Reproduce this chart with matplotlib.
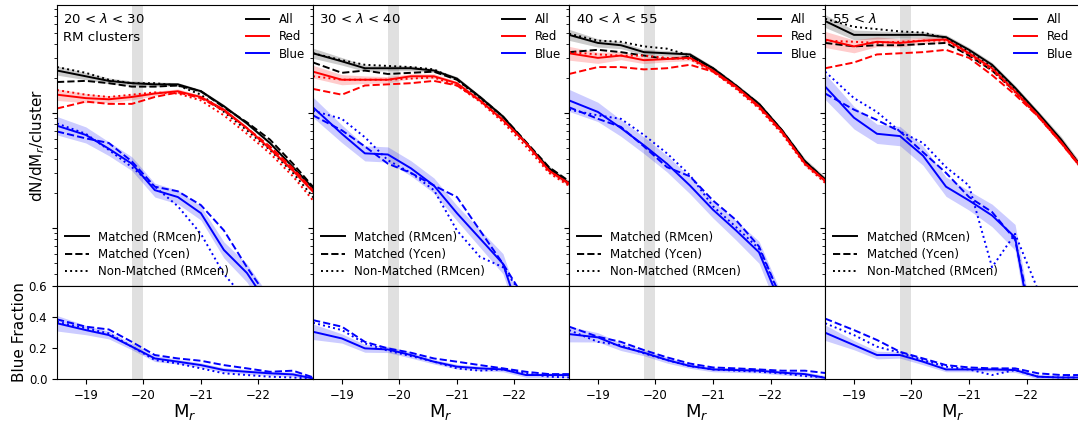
import numpy as np
import matplotlib
matplotlib.use("Agg")
import matplotlib.pyplot as plt

# Absolute magnitude bin centres (first point sits on the left edge)
MR = [-18.5, -19.0, -19.4, -19.8, -20.2, -20.6, -21.0, -21.4, -21.8, -22.2, -22.6, -23.0]

TITLES = ["20 < $\\lambda$ < 30", "30 < $\\lambda$ < 40", "40 < $\\lambda$ < 55", "55 < $\\lambda$"]

# log10(dN/dMr/cluster), one row per richness bin
ALL_RM = [
    [0.37, 0.32, 0.28, 0.26, 0.25, 0.25, 0.19, 0.06, -0.09, -0.26, -0.47, -0.68],
    [0.52, 0.45, 0.39, 0.39, 0.39, 0.37, 0.30, 0.14, -0.03, -0.26, -0.48, -0.63],
    [0.68, 0.61, 0.59, 0.53, 0.52, 0.51, 0.39, 0.24, 0.08, -0.15, -0.42, -0.60],
    [0.80, 0.68, 0.68, 0.68, 0.68, 0.66, 0.55, 0.42, 0.22, 0.00, -0.23, -0.50],
]
ALL_Y = [
    [0.27, 0.28, 0.26, 0.23, 0.23, 0.24, 0.19, 0.05, -0.08, -0.23, -0.44, -0.67],
    [0.44, 0.35, 0.37, 0.34, 0.35, 0.36, 0.29, 0.14, -0.03, -0.25, -0.47, -0.61],
    [0.53, 0.55, 0.53, 0.50, 0.47, 0.49, 0.39, 0.24, 0.08, -0.15, -0.42, -0.60],
    [0.61, 0.58, 0.59, 0.59, 0.60, 0.61, 0.50, 0.37, 0.19, -0.02, -0.25, -0.50],
]
ALL_NM = [
    [0.40, 0.35, 0.29, 0.26, 0.26, 0.24, 0.16, 0.01, -0.15, -0.32, -0.52, -0.76],
    [0.52, 0.46, 0.42, 0.41, 0.40, 0.38, 0.29, 0.13, -0.06, -0.26, -0.50, -0.64],
    [0.69, 0.63, 0.62, 0.58, 0.56, 0.50, 0.37, 0.23, 0.07, -0.16, -0.44, -0.61],
    [0.82, 0.75, 0.73, 0.71, 0.70, 0.65, 0.53, 0.40, 0.21, -0.01, -0.24, -0.50],
]
RED_RM = [
    [0.16, 0.13, 0.12, 0.14, 0.17, 0.19, 0.14, 0.03, -0.13, -0.31, -0.50, -0.71],
    [0.36, 0.29, 0.29, 0.29, 0.32, 0.32, 0.26, 0.11, -0.06, -0.26, -0.50, -0.63],
    [0.52, 0.48, 0.50, 0.46, 0.47, 0.48, 0.37, 0.23, 0.06, -0.16, -0.44, -0.61],
    [0.64, 0.58, 0.62, 0.61, 0.63, 0.64, 0.52, 0.39, 0.19, -0.02, -0.25, -0.50],
]
RED_Y = [
    [0.04, 0.10, 0.08, 0.08, 0.14, 0.18, 0.13, 0.02, -0.13, -0.29, -0.48, -0.70],
    [0.21, 0.16, 0.24, 0.25, 0.26, 0.28, 0.24, 0.11, -0.06, -0.26, -0.50, -0.63],
    [0.34, 0.40, 0.40, 0.38, 0.39, 0.42, 0.36, 0.22, 0.05, -0.17, -0.44, -0.61],
    [0.39, 0.44, 0.51, 0.52, 0.53, 0.55, 0.48, 0.33, 0.16, -0.03, -0.26, -0.51],
]
RED_NM = [
    [0.20, 0.16, 0.14, 0.16, 0.18, 0.17, 0.11, -0.02, -0.18, -0.35, -0.55, -0.79],
    [0.32, 0.29, 0.29, 0.29, 0.30, 0.31, 0.24, 0.10, -0.08, -0.29, -0.52, -0.65],
    [0.53, 0.51, 0.50, 0.50, 0.48, 0.47, 0.36, 0.21, 0.04, -0.18, -0.45, -0.63],
    [0.63, 0.62, 0.61, 0.62, 0.63, 0.63, 0.51, 0.37, 0.18, -0.03, -0.26, -0.51],
]
BLUE_RM = [
    [-0.11, -0.19, -0.31, -0.44, -0.67, -0.73, -0.87, -1.19, -1.39, -1.69, -1.97, -2.32],
    [0.05, -0.18, -0.35, -0.36, -0.48, -0.63, -0.87, -1.09, -1.31, -1.91, -2.23, -2.58],
    [0.11, 0.01, -0.13, -0.28, -0.44, -0.63, -0.84, -1.02, -1.21, -1.69, -2.06, -2.41],
    [0.23, -0.04, -0.18, -0.20, -0.37, -0.64, -0.76, -0.89, -1.08, -2.20, -2.50, -2.84],
]
BLUE_Y = [
    [-0.16, -0.22, -0.26, -0.42, -0.64, -0.68, -0.80, -1.02, -1.34, -1.63, -1.93, -2.28],
    [-0.02, -0.15, -0.29, -0.44, -0.52, -0.63, -0.73, -1.02, -1.31, -1.63, -1.93, -2.28],
    [0.05, -0.05, -0.12, -0.29, -0.47, -0.55, -0.76, -0.93, -1.16, -1.63, -2.02, -2.37],
    [0.17, 0.03, -0.06, -0.16, -0.34, -0.52, -0.73, -0.86, -1.10, -2.06, -2.41, -2.76],
]
BLUE_NM = [
    [-0.09, -0.18, -0.32, -0.47, -0.64, -0.81, -1.05, -1.40, -1.63, -1.97, -2.32, -2.67],
    [0.02, -0.05, -0.21, -0.41, -0.52, -0.67, -1.02, -1.25, -1.34, -1.63, -1.97, -2.32],
    [0.03, -0.02, -0.05, -0.19, -0.35, -0.54, -0.81, -0.99, -1.18, -1.63, -2.02, -2.37],
    [0.36, 0.13, 0.01, -0.16, -0.26, -0.47, -0.63, -1.34, -1.05, -1.54, -1.89, -2.23],
]
# error half-widths in dex for the matched (RMcen) curves
ERR_ALL = [0.04, 0.03, 0.025, 0.02, 0.02, 0.015, 0.015, 0.015, 0.015, 0.015, 0.02, 0.02]
ERR_RED = [0.05, 0.04, 0.03, 0.025, 0.02, 0.02, 0.015, 0.015, 0.015, 0.015, 0.02, 0.02]
ERR_BLUE = [0.08, 0.07, 0.06, 0.06, 0.06, 0.06, 0.06, 0.07, 0.08, 0.09, 0.10, 0.12]
ERR_SCALE = [1.0, 1.1, 1.2, 1.4]

# blue fraction
FRAC_RM = [
    [0.36, 0.316, 0.284, 0.209, 0.133, 0.112, 0.09, 0.058, 0.047, 0.037, 0.030, 0.0],
    [0.305, 0.262, 0.198, 0.191, 0.155, 0.112, 0.08, 0.069, 0.062, 0.026, 0.026, 0.026],
    [0.29, 0.269, 0.209, 0.17, 0.123, 0.084, 0.062, 0.058, 0.054, 0.041, 0.032, 0.004],
    [0.299, 0.219, 0.155, 0.155, 0.112, 0.062, 0.062, 0.062, 0.058, 0.015, 0.01, 0.01],
]
FRAC_Y = [
    [0.385, 0.338, 0.32, 0.24, 0.155, 0.133, 0.118, 0.09, 0.069, 0.047, 0.054, 0.005],
    [0.38, 0.338, 0.24, 0.198, 0.17, 0.133, 0.112, 0.09, 0.069, 0.047, 0.032, 0.032],
    [0.338, 0.273, 0.24, 0.187, 0.14, 0.10, 0.075, 0.069, 0.062, 0.054, 0.054, 0.037],
    [0.39, 0.316, 0.252, 0.176, 0.133, 0.09, 0.075, 0.069, 0.069, 0.037, 0.026, 0.026],
]
FRAC_NM = [
    [0.37, 0.327, 0.295, 0.209, 0.123, 0.10, 0.069, 0.037, 0.026, 0.015, 0.01, 0.0],
    [0.363, 0.316, 0.23, 0.183, 0.148, 0.112, 0.069, 0.054, 0.062, 0.037, 0.015, 0.01],
    [0.316, 0.24, 0.219, 0.166, 0.123, 0.084, 0.062, 0.054, 0.047, 0.037, 0.019, 0.01],
    [0.36, 0.284, 0.209, 0.17, 0.123, 0.08, 0.062, 0.026, 0.058, 0.015, 0.01, 0.01],
]
FRAC_ERR = [0.05, 0.03, 0.025, 0.02, 0.02, 0.015, 0.015, 0.015, 0.015, 0.015, 0.015, 0.015]

x = np.array(MR)

fig, axes = plt.subplots(2, 4, figsize=(10.78, 4.24), dpi=100, sharex=True,
                         gridspec_kw={"height_ratios": [281, 93]})
fig.subplots_adjust(left=0.0529, right=1.003, top=0.988, bottom=0.106, wspace=0, hspace=0)

for i in range(4):
    ax = axes[0, i]
    bx = axes[1, i]
    for a in (ax, bx):
        a.axvspan(-19.8, -20.0, color="#e0e0e0", zorder=0, lw=0)

    s = ERR_SCALE[i]
    for rm, yc, nm, err, c in [(ALL_RM[i], ALL_Y[i], ALL_NM[i], ERR_ALL, "k"),
                               (RED_RM[i], RED_Y[i], RED_NM[i], ERR_RED, "r"),
                               (BLUE_RM[i], BLUE_Y[i], BLUE_NM[i], ERR_BLUE, "b")]:
        rm = np.array(rm)
        e = np.array(err) * s
        ax.fill_between(x, 10 ** (rm - e), 10 ** (rm + e), color=c, alpha=0.2, lw=0)
        ax.plot(x, 10 ** rm, color=c, ls="-", lw=1.4)
        ax.plot(x, 10 ** np.array(yc), color=c, ls="--", lw=1.4)
        ax.plot(x, 10 ** np.array(nm), color=c, ls=":", lw=1.4)

    ax.set_yscale("log")
    ax.set_ylim(10 ** -1.504, 10 ** 0.939)
    ax.set_xlim(-18.5, -22.95)
    ax.tick_params(axis="y", which="both", labelleft=False)
    ax.tick_params(axis="x", which="both", bottom=False, labelbottom=False)

    l1 = [plt.Line2D([], [], color=c, lw=1.4) for c in ("k", "r", "b")]
    leg1 = ax.legend(l1, ["All", "Red", "Blue"], loc="upper right", frameon=False,
                     fontsize=8.5, handlelength=2.0, borderaxespad=0.3, labelspacing=0.35)
    ax.add_artist(leg1)
    l2 = [plt.Line2D([], [], color="k", lw=1.4, ls=ls) for ls in ("-", "--", ":")]
    ax.legend(l2, ["Matched (RMcen)", "Matched (Ycen)", "Non-Matched (RMcen)"],
              loc="lower left", frameon=False, fontsize=8.5, handlelength=2.0,
              borderaxespad=0.3, labelspacing=0.35)

    label = TITLES[i] + ("\nRM clusters" if i == 0 else "")
    ax.text(0.025, 0.975, label, transform=ax.transAxes, va="top", ha="left",
            fontsize=9.5, linespacing=1.5)

    f = np.array(FRAC_RM[i])
    fe = np.array(FRAC_ERR)
    bx.fill_between(x, f - fe, f + fe, color="b", alpha=0.2, lw=0)
    bx.plot(x, f, color="b", ls="-", lw=1.4)
    bx.plot(x, FRAC_Y[i], color="b", ls="--", lw=1.4)
    bx.plot(x, FRAC_NM[i], color="b", ls=":", lw=1.4)
    bx.set_ylim(0, 0.6)
    bx.set_yticks([0.0, 0.2, 0.4, 0.6])
    bx.set_xticks([-19, -20, -21, -22])
    bx.tick_params(labelsize=8.5)
    bx.set_xlabel("M$_r$", fontsize=13, labelpad=0.5)
    if i > 0:
        bx.tick_params(axis="y", left=False, labelleft=False)

axes[0, 0].set_ylabel("dN/dM$_r$/cluster", fontsize=11)
axes[1, 0].set_ylabel("Blue Fraction", fontsize=11, labelpad=1.5)

fig.savefig("out.png", dpi=100)
